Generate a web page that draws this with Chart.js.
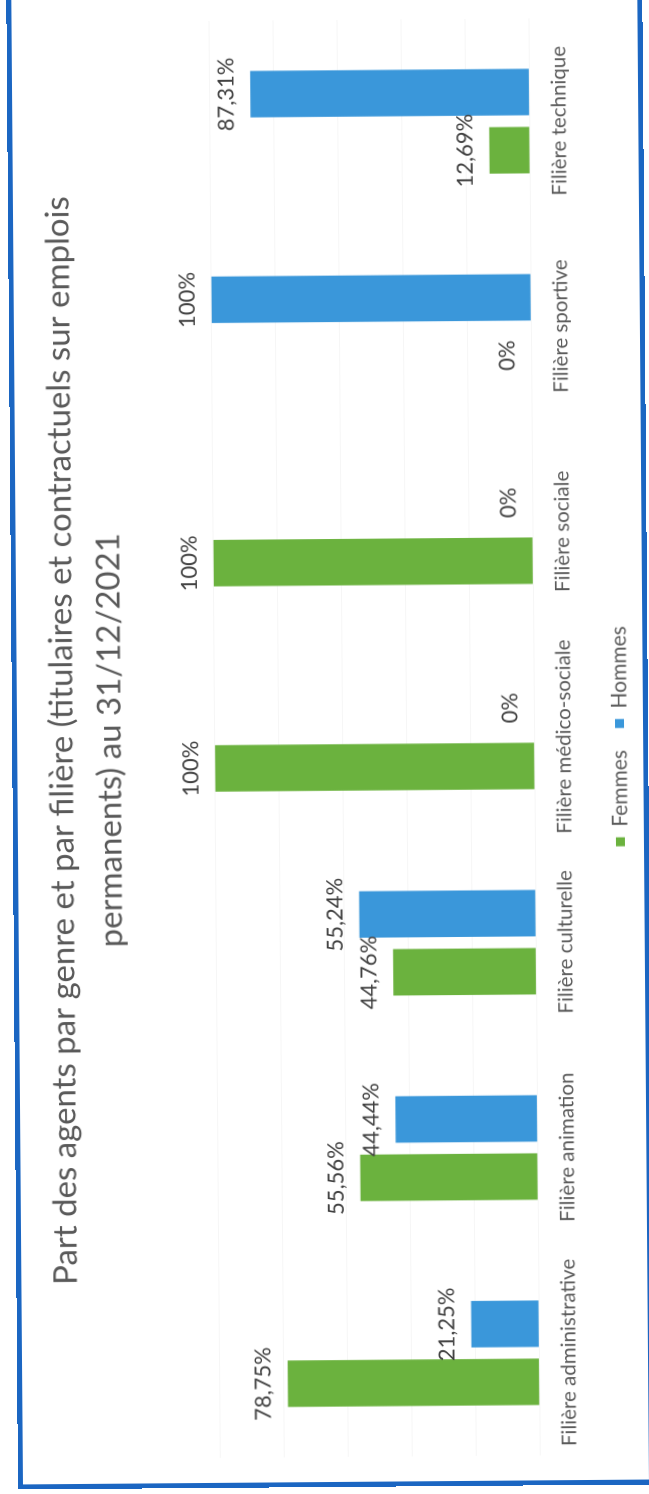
<!DOCTYPE html>
<html lang="fr">
<head>
<meta charset="utf-8">
<title>Part des agents par genre et par filière</title>
<script src="https://cdn.jsdelivr.net/npm/chart.js@4.4.1/dist/chart.umd.min.js"></script>
<style>
  html, body { margin: 0; padding: 0; background: #fff; width: 649px; height: 1494px; overflow: hidden; }
  /* The page is laid out in landscape and turned a quarter turn to the left */
  #sheet {
    position: absolute; left: -435px; top: 404px;
    width: 1530px; height: 636px;
    transform: rotate(-90.45deg); transform-origin: 50% 50%;
    background: #fff;
  }
  #sheet canvas { position: absolute; left: 0; top: 0; }
  #frame {
    position: absolute; left: 0; top: 0; right: 0; bottom: 0;
    border: 5px solid #1b66c2; box-sizing: border-box; pointer-events: none;
  }
</style>
</head>
<body>
<div id="sheet">
  <canvas id="chart" width="1530" height="636"></canvas>
  <div id="frame"></div>
</div>
<script>
// Categories (filières) and the share of each gender, in percent
const categories = [
  'Filière administrative',
  'Filière animation',
  'Filière culturelle',
  'Filière médico-sociale',
  'Filière sociale',
  'Filière sportive',
  'Filière technique'
];
const femmes = [78.75, 55.56, 44.76, 100, 100, 0, 12.69];
const hommes = [21.25, 44.44, 55.24, 0, 0, 100, 87.31];
const seriesNames = ['Femmes', 'Hommes'];
const valueTicks = [0, 20, 40, 60, 80, 100];
const titleLines = [
  'Part des agents par genre et par filière (titulaires et contractuels sur emplois',
  'permanents) au 31/12/2021'
];

const GREEN = '#6bb23e';
const BLUE = '#3a97da';
const GREY_TEXT = '#595959';

// French formatting: comma decimal, no trailing ",00"
function pct(v) {
  const s = Number.isInteger(v) ? String(v) : v.toFixed(2).replace('.', ',');
  return s + '%';
}

// Writes each bar's value just above the end of the bar
const barValueLabels = {
  id: 'barValueLabels',
  afterDatasetsDraw(chart) {
    const ctx = chart.ctx;
    ctx.save();
    ctx.font = '22px Lato';
    ctx.fillStyle = '#404040';
    ctx.textAlign = 'center';
    ctx.textBaseline = 'middle';
    chart.data.datasets.forEach((ds, i) => {
      chart.getDatasetMeta(i).data.forEach((bar, j) => {
        ctx.fillText(pct(ds.data[j]), bar.x, bar.y - 24);
      });
    });
    ctx.restore();
  }
};

Chart.defaults.font.family = 'Lato';
Chart.defaults.color = GREY_TEXT;

new Chart(document.getElementById('chart'), {
  type: 'bar',
  data: {
    labels: categories,
    datasets: [
      { label: seriesNames[0], data: femmes, backgroundColor: GREEN, borderWidth: 0,
        categoryPercentage: 0.566, barPercentage: 0.8 },
      { label: seriesNames[1], data: hommes, backgroundColor: BLUE, borderWidth: 0,
        categoryPercentage: 0.566, barPercentage: 0.8 }
    ]
  },
  options: {
    responsive: false,
    animation: false,
    devicePixelRatio: 2,
    layout: { padding: { left: 30, right: 63, top: 0, bottom: 8 } },
    plugins: {
      title: {
        display: true,
        text: titleLines,
        color: GREY_TEXT,
        font: { size: 33, weight: 'normal', lineHeight: 1.45 },
        padding: { top: 26, bottom: 81 }
      },
      legend: {
        position: 'bottom',
        labels: { boxWidth: 9, boxHeight: 9, padding: 22, color: GREY_TEXT, font: { size: 21 } }
      },
      tooltip: { enabled: false }
    },
    scales: {
      x: {
        grid: { display: false },
        border: { display: false },
        ticks: { color: GREY_TEXT, font: { size: 20.5 }, padding: 9, maxRotation: 0, autoSkip: false },
        afterFit(scale) { scale.height += 2; }
      },
      y: {
        min: 0,
        max: 100,
        afterBuildTicks(scale) { scale.ticks = valueTicks.map(v => ({ value: v })); },
        ticks: { display: false },
        grid: { color: 'rgba(0,0,0,0.035)', drawTicks: false },
        border: { display: false }
      }
    }
  },
  plugins: [barValueLabels]
});
</script>
</body>
</html>
